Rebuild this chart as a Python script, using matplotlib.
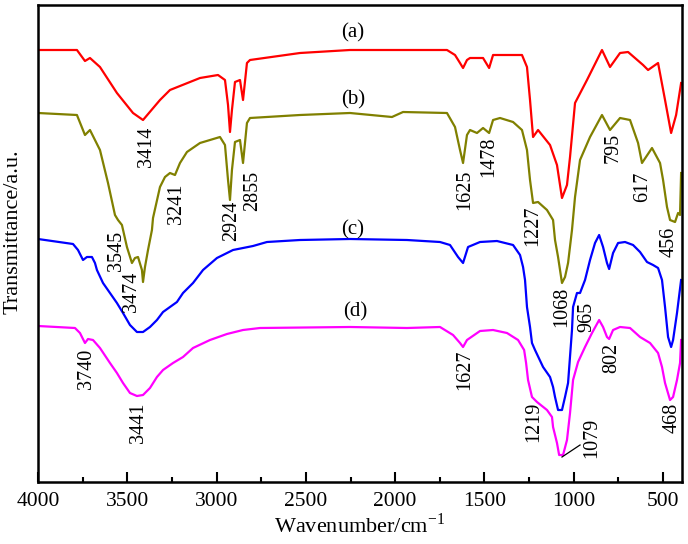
import matplotlib
matplotlib.use("Agg")
import matplotlib.pyplot as plt
from matplotlib.ticker import MultipleLocator

plt.rcParams['font.family'] = ['Liberation Serif', 'DejaVu Serif']
plt.rcParams['mathtext.fontset'] = 'custom'
plt.rcParams['mathtext.rm'] = 'Liberation Serif'

# ---- data: wavenumber (cm-1) and transmittance (a.u., offset traces) ----
wn_a = [4000, 3782, 3737, 3709, 3653, 3558, 3468, 3412, 3317, 3261, 3093, 2992, 2953, 2936,
        2925, 2914, 2897, 2869, 2852, 2830, 2813, 2533, 2253, 1710, 1665, 1637, 1620, 1598,
        1581, 1508, 1474, 1452, 1290, 1262, 1245, 1228, 1200, 1133, 1094, 1066, 1038, 1021,
        993, 926, 870, 842, 797, 741, 696, 612, 584, 528, 489, 455, 427, 399]
t_a = [432, 432, 421, 424, 415, 389, 369, 362, 382, 392, 404, 407, 402, 377,
       350, 372, 400, 402, 382, 419, 422, 429, 432, 432, 427, 419, 414, 422,
       424, 424, 414, 427, 427, 415, 382, 345, 352, 337, 317, 284, 297, 325,
       379, 402, 422, 432, 415, 429, 430, 417, 412, 419, 382, 349, 367, 399]

wn_b = [4000, 3782, 3737, 3709, 3653, 3608, 3569, 3552, 3530, 3502, 3474, 3457, 3440, 3418,
        3412, 3401, 3384, 3362, 3356, 3317, 3289, 3261, 3233, 3205, 3166, 3093, 2981, 2953,
        2936, 2925, 2914, 2897, 2869, 2852, 2830, 2813, 2533, 2253, 2018, 1956, 1710, 1665,
        1637, 1620, 1598, 1581, 1542, 1508, 1474, 1452, 1413, 1340, 1290, 1262, 1245, 1228,
        1200, 1150, 1116, 1105, 1088, 1066, 1049, 1032, 1010, 993, 965, 909, 842, 797, 741,
        685, 640, 618, 562, 517, 500, 478, 461, 433, 416, 405, 399]
t_b = [369, 367, 347, 352, 332, 299, 267, 262, 257, 235, 219, 224, 225, 212,
       200, 215, 232, 252, 264, 295, 305, 309, 307, 319, 330, 339, 345, 337,
       302, 282, 312, 340, 342, 319, 359, 364, 367, 369, 365, 370, 369, 355,
       332, 319, 347, 352, 349, 354, 349, 362, 364, 360, 352, 332, 302, 279,
       280, 272, 262, 242, 225, 199, 205, 219, 252, 285, 322, 345, 367, 352, 364,
       362, 339, 319, 334, 319, 302, 275, 262, 260, 269, 267, 309]

wn_c = [4000, 3804, 3776, 3748, 3726, 3698, 3681, 3670, 3636, 3597, 3558, 3524, 3485, 3446,
        3412, 3373, 3334, 3300, 3261, 3222, 3188, 3132, 3076, 2998, 2908, 2796, 2718, 2533,
        2253, 1934, 1749, 1693, 1648, 1620, 1592, 1525, 1430, 1340, 1301, 1284, 1273, 1262,
        1245, 1234, 1217, 1172, 1133, 1116, 1105, 1088, 1066, 1049, 1032, 1010, 1004, 982,
        965, 937, 909, 881, 858, 836, 814, 802, 780, 752, 713, 668, 629, 590, 556, 528,
        506, 489, 472, 455, 444, 422, 399]
t_c = [243, 238, 232, 222, 225, 225, 219, 212, 199, 189, 179, 169, 157, 150,
       150, 155, 162, 170, 175, 180, 189, 199, 212, 224, 232, 236, 240, 242,
       243, 242, 240, 237, 225, 219, 235, 240, 241, 237, 227, 215, 202, 175,
       155, 139, 132, 115, 105, 95, 85, 72, 72, 85, 99, 152, 175, 189,
       189, 202, 222, 239, 247, 235, 219, 213, 229, 239, 240, 237, 230, 220, 217, 214,
       202, 175, 145, 135, 142, 169, 202]

wn_d = [4000, 3793, 3765, 3737, 3720, 3692, 3653, 3597, 3558, 3524, 3485, 3446, 3412, 3373,
        3334, 3300, 3244, 3188, 3132, 3037, 2942, 2852, 2757, 2253, 1934, 1749, 1676, 1637,
        1620, 1598, 1525, 1452, 1374, 1312, 1278, 1267, 1256, 1234, 1206, 1150, 1122, 1116,
        1094, 1082, 1060, 1038, 1021, 1004, 976, 937, 898, 858, 836, 814, 802, 780, 741,
        685, 629, 573, 528, 506, 489, 461, 444, 422, 405, 399]
t_d = [156, 154, 149, 139, 143, 142, 134, 119, 109, 99, 89, 86, 87, 94,
       105, 112, 119, 125, 134, 142, 148, 152, 154, 155, 154, 155, 147, 139,
       135, 142, 151, 152, 149, 142, 132, 119, 102, 85, 80, 72, 65, 55,
       39, 27, 27, 42, 69, 102, 120, 135, 149, 162, 155, 145, 143, 152, 155,
       154, 145, 139, 129, 115, 99, 82, 85, 102, 119, 142]

curve_names = ['(a)', '(b)', '(c)', '(d)']
curve_colors = ['#FF0000', '#808000', '#0000FF', '#FF00FF']
curve_label_pos = [(2236, 449), (2236, 382), (2236, 252), (2225, 170)]

# peak labels: text, x (cm-1), y (a.u.)
peak_text = ['3414', '3241', '2924', '2855', '3545', '3474', '1625', '1478', '1227', '795',
             '617', '456', '1068', '965', '3740', '3441', '1627', '1219', '1079', '802', '468']
peak_x = [3390, 3222, 2914, 2796, 3563, 3479, 1609, 1474, 1232, 780,
          612, 467, 1066, 926, 3726, 3440, 1609, 1222, 898, 786, 450]
peak_y = [335, 278, 261, 291, 231, 190, 292, 325, 256, 334,
          295, 240, 175, 165, 113, 59, 112, 60, 44, 124, 64]

xticks = [4000, 3500, 3000, 2500, 2000, 1500, 1000, 500]

fig = plt.figure(figsize=(6.88, 5.44), dpi=100)
ax = fig.add_axes([38 / 688, 1 - 482 / 544, 644 / 688, 477 / 544])

for wn, t, c in zip([wn_a, wn_b, wn_c, wn_d], [t_a, t_b, t_c, t_d], curve_colors):
    ax.plot(wn, t, color=c, lw=1.6, solid_joinstyle='round')

for name, (x, y) in zip(curve_names, curve_label_pos):
    ax.text(x, y, name, fontsize=15, ha='center', va='center')

for s, x, y in zip(peak_text, peak_x, peak_y):
    ax.text(x, y, s, fontsize=14.5, rotation=90, ha='center', va='center')

ax.plot([1066, 965], [25, 37], color='black', lw=0.9)

ax.set_xlim(4000, 394)
ax.set_ylim(0, 477)
ax.set_xticks(xticks)
ax.set_xticklabels([str(v) for v in xticks])
ax.xaxis.set_minor_locator(MultipleLocator(250))
ax.set_yticks([])
ax.tick_params(axis='x', which='major', direction='in', length=7, width=1.5,
               labelsize=15.5, pad=7)
ax.tick_params(axis='x', which='minor', direction='in', length=3.5, width=1.5)
ax.tick_params(top=False, right=False)
for sp in ax.spines.values():
    sp.set_linewidth(1.8)

ax.set_xlabel('Wavenumber/cm$^{\\mathregular{-1}}$', fontsize=16, labelpad=2)
ax.set_ylabel('Transmittance/a.u.', fontsize=16, va='center')
ax.yaxis.set_label_coords(-0.039, 0.524)

fig.savefig('out.png', dpi=100)
